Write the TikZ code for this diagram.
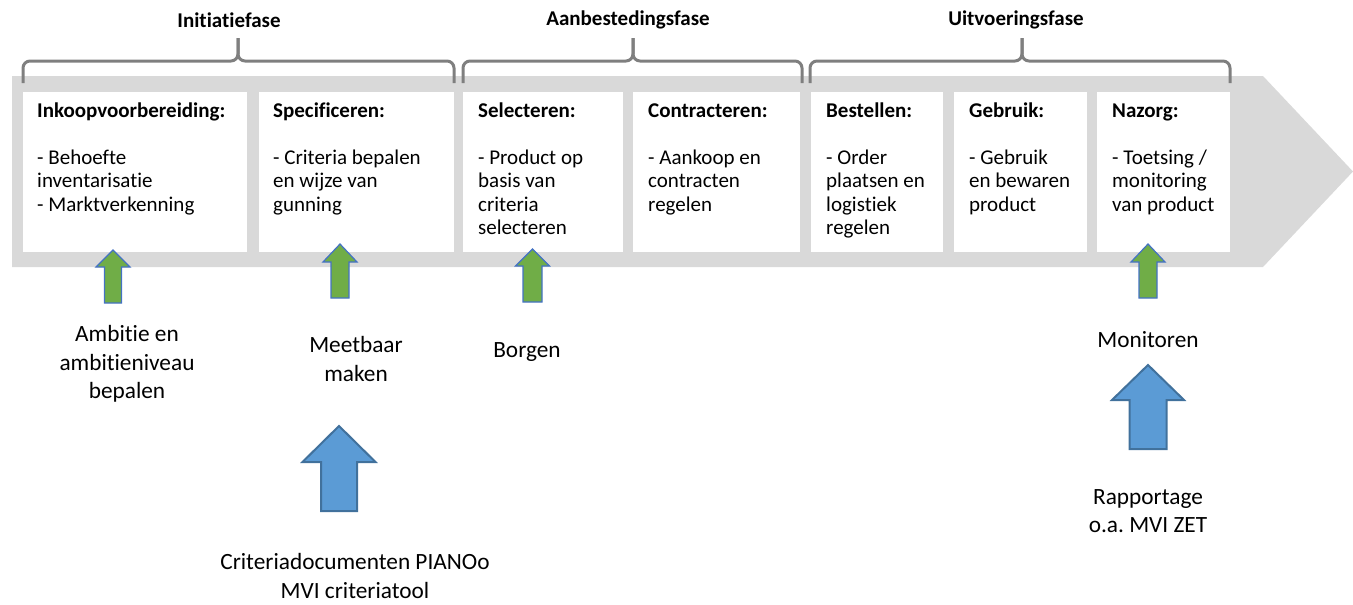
\documentclass[tikz,border=0pt]{standalone}
\usepackage{fontspec}
\setmainfont[Ligatures={NoCommon,NoContextual}]{Carlito}
\definecolor{bandgray}{RGB}{217,217,217}
\definecolor{bracegray}{RGB}{127,127,127}
\definecolor{arrgreen}{RGB}{112,173,71}
\definecolor{arrgreenline}{RGB}{68,114,196}
\definecolor{arrblue}{RGB}{91,155,213}
\definecolor{arrblueline}{RGB}{65,113,156}
\newcommand{\blockarrow}[7]{% style, tipx, tipy, headbase y, bottom y, head half, shaft half
  \draw[#1] (#2,#3) -- ({#2+#6},#4) -- ({#2+#7},#4) -- ({#2+#7},#5) -- ({#2-#7},#5) -- ({#2-#7},#4) -- ({#2-#6},#4) -- cycle;}
\frenchspacing
\begin{document}
\begin{tikzpicture}[x=1pt,y=-1pt,
  stagebox/.style={fill=white, draw=none, inner sep=0pt, outer sep=0pt, anchor=north west, minimum height=160pt},
  brace/.style={draw=bracegray, line width=3pt, rounded corners=7pt},
  phase/.style={font=\bfseries\fontsize{21}{25}\selectfont, inner sep=0pt},
  stagetext/.style={anchor=north west, inner sep=0pt, align=left, font=\fontsize{21}{23.5}\selectfont},
  undertext/.style={align=center, font=\fontsize{23.3}{28.5}\selectfont, inner sep=0pt},
  garrow/.style={fill=arrgreen, draw=arrgreenline, line width=1.2pt},
  barrow/.style={fill=arrblue, draw=arrblueline, line width=2pt}]
\useasboundingbox (0,0) rectangle (1353,605);
% band
\fill[bandgray] (12,76) -- (1263,76) -- (1353,171.5) -- (1263,267) -- (12,267) -- cycle;
% stage boxes
\node[stagebox, minimum width=224pt] (b1) at (23,92) {};
\node[stagebox, minimum width=195pt] (b2) at (259,92) {};
\node[stagebox, minimum width=160pt] (b3) at (463,92) {};
\node[stagebox, minimum width=167pt] (b4) at (633,92) {};
\node[stagebox, minimum width=132pt] (b5) at (811,92) {};
\node[stagebox, minimum width=133pt] (b6) at (954,92) {};
\node[stagebox, minimum width=133pt] (b7) at (1097,92) {};
% stage texts
\node[stagetext] (t1) at (37,100.5) {\strut\textbf{Inkoopvoorbereiding:}\\[23.5pt]- Behoefte\\inventarisatie\\- Marktverkenning};
\node[stagetext] (t2) at (273,100.5) {\strut\textbf{Specificeren:}\\[23.5pt]- Criteria bepalen\\en wijze van\\gunning};
\node[stagetext] (t3) at (478,100.5) {\strut\textbf{Selecteren:}\\[23.5pt]- Product op\\basis van\\criteria\\selecteren};
\node[stagetext] (t4) at (648,100.5) {\strut\textbf{Contracteren:}\\[23.5pt]- Aankoop en\\contracten\\regelen};
\node[stagetext] (t5) at (826,100.5) {\strut\textbf{Bestellen:}\\[23.5pt]- Order\\plaatsen en\\logistiek\\regelen};
\node[stagetext] (t6) at (969,100.5) {\strut\textbf{Gebruik:}\\[23.5pt]- Gebruik\\en bewaren\\product};
\node[stagetext] (t7) at (1112,100.5) {\strut\textbf{Nazorg:}\\[23.5pt]- Toetsing /\\monitoring\\van product};
% braces
\draw[brace] (23,83) |- (238,61) -- (238,38);
\draw[brace] (238,38) -- (238,61) -| (454,83);
\draw[brace] (463,83) |- (633,61) -- (633,38);
\draw[brace] (633,38) -- (633,61) -| (802,83);
\draw[brace] (810,83) |- (1022,61) -- (1022,38);
\draw[brace] (1022,38) -- (1022,61) -| (1230,83);
% phase titles
\node[phase] (p1) at (229,20) {Initiatiefase};
\node[phase] (p2) at (628,20) {Aanbestedingsfase};
\node[phase] (p3) at (1016,20) {Uitvoeringsfase};
% green arrows
\blockarrow{garrow}{113}{250}{267}{303}{17}{8.5}
\blockarrow{garrow}{340}{244}{262}{298}{17}{9}
\blockarrow{garrow}{532.5}{249}{266}{302}{17}{9.5}
\blockarrow{garrow}{1148}{244}{262}{298}{17}{9}
% blue arrows
\blockarrow{barrow}{339}{426}{462}{511}{36.5}{18}
\blockarrow{barrow}{1148}{365}{400}{449}{36}{18.5}
% labels
\node[undertext] (l1) at (127,364) {Ambitie en\\ambitieniveau\\bepalen};
\node[undertext] (l2) at (356,359) {Meetbaar\\maken};
\node[undertext] (l3) at (527,352) {Borgen};
\node[undertext] (l4) at (1148,340) {Monitoren};
\node[undertext] (l5) at (1148,511) {Rapportage\\o.a. MVI ZET};
\node[undertext] (l6) at (355,576) {Criteriadocumenten PIANOo\\MVI criteriatool};
\end{tikzpicture}
\end{document}
